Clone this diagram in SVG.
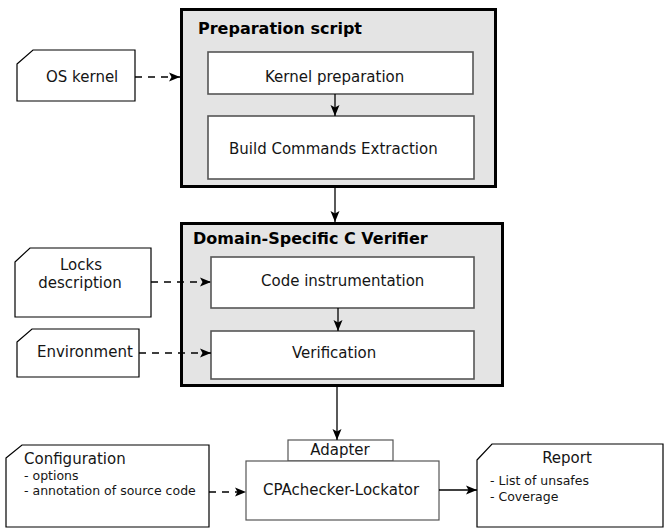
<svg xmlns="http://www.w3.org/2000/svg" width="664" height="529" viewBox="0 0 664 529">
  <style>
    text { font-family: "DejaVu Sans", "Liberation Sans", sans-serif; fill: #151515; }
    .t15 { font-size: 15px; }
    .small { font-size: 12.5px; }
    .title { font-size: 16px; font-weight: bold; fill: #000; }
    .container { fill: #e4e4e4; stroke: #000; stroke-width: 3; }
    .step { fill: #fff; stroke: #555; stroke-width: 1.6; }
    .doc { fill: #fff; stroke: #000; stroke-width: 1.2; }
    .box { fill: #fff; stroke: #555; stroke-width: 1.2; }
    .flow { fill: none; stroke: #000; stroke-width: 1.3; marker-end: url(#arrow); }
    .dashed { stroke-dasharray: 7 6; }
  </style>
  <defs>
    <marker id="arrow" markerUnits="userSpaceOnUse" markerWidth="12" markerHeight="10" refX="11" refY="5" orient="auto">
      <path d="M0,0.5 L11,5 L0,9.5 L2.5,5 z" fill="#000"/>
    </marker>
  </defs>

  <rect width="664" height="529" fill="#fff"/>

  <!-- Preparation script container -->
  <g id="preparation-script">
    <rect class="container" x="181.5" y="9.5" width="314" height="177"/>
    <text class="title" x="198" y="34">Preparation script</text>
  </g>
  <g id="kernel-preparation">
    <rect class="step" x="208" y="52" width="265" height="42"/>
    <text class="t15" x="265" y="82">Kernel preparation</text>
  </g>
  <g id="build-commands">
    <rect class="step" x="208" y="116" width="266" height="63"/>
    <text class="t15" x="229" y="154">Build Commands Extraction</text>
  </g>

  <!-- Domain-Specific C Verifier container -->
  <g id="dscv">
    <rect class="container" x="181.5" y="223.5" width="321" height="162"/>
    <text class="title" x="193" y="244">Domain-Specific C Verifier</text>
  </g>
  <g id="code-instrumentation">
    <rect class="step" x="211" y="257" width="263" height="51"/>
    <text class="t15" x="261" y="286">Code instrumentation</text>
  </g>
  <g id="verification">
    <rect class="step" x="211" y="331" width="263" height="48"/>
    <text class="t15" x="292" y="358">Verification</text>
  </g>

  <!-- Input documents -->
  <g id="os-kernel">
    <path class="doc" d="M17,64 L33,50 L135,50 L135,101 L17,101 Z"/>
    <text class="t15" x="46" y="82">OS kernel</text>
  </g>
  <g id="locks-description">
    <path class="doc" d="M15,262 L30,248 L151,248 L151,317 L15,317 Z"/>
    <text class="t15" x="81" y="270" text-anchor="middle">Locks</text>
    <text class="t15" x="80" y="288" text-anchor="middle">description</text>
  </g>
  <g id="environment">
    <path class="doc" d="M17,342 L32,329 L139,329 L139,377 L17,377 Z"/>
    <text class="t15" x="37" y="357">Environment</text>
  </g>
  <g id="configuration">
    <path class="doc" d="M6,458 L22,445 L209,445 L209,527 L6,527 Z"/>
    <text class="t15" x="24" y="464">Configuration</text>
    <text class="small" x="24" y="479.5">- options</text>
    <text class="small" x="24" y="495">- annotation of source code</text>
  </g>

  <!-- Verification tool -->
  <g id="cpachecker-lockator">
    <rect class="box" x="288" y="440" width="105" height="21"/>
    <text class="t15" x="340" y="455" text-anchor="middle">Adapter</text>
    <rect class="box" x="246" y="461" width="193" height="59"/>
    <text class="t15" x="263" y="495">CPAchecker-Lockator</text>
  </g>

  <!-- Output document -->
  <g id="report">
    <path class="doc" d="M477,460 L492,444 L663,444 L663,527 L477,527 Z"/>
    <text class="t15" x="567" y="463" text-anchor="middle">Report</text>
    <text class="small" x="490" y="485">- List of unsafes</text>
    <text class="small" x="490" y="501">- Coverage</text>
  </g>

  <!-- Connectors -->
  <g id="connectors">
    <line class="flow dashed" x1="135" y1="77" x2="180" y2="77"/>
    <line class="flow" x1="335" y1="94" x2="335" y2="116"/>
    <line class="flow" x1="335" y1="188" x2="335" y2="222"/>
    <line class="flow dashed" x1="151" y1="282" x2="211" y2="282"/>
    <line class="flow" x1="338" y1="308" x2="338" y2="331"/>
    <line class="flow dashed" x1="139" y1="353" x2="211" y2="353"/>
    <line class="flow" x1="337" y1="387" x2="337" y2="440"/>
    <line class="flow dashed" x1="209" y1="492" x2="246" y2="492"/>
    <line class="flow" x1="439" y1="490" x2="477" y2="490"/>
  </g>
</svg>
